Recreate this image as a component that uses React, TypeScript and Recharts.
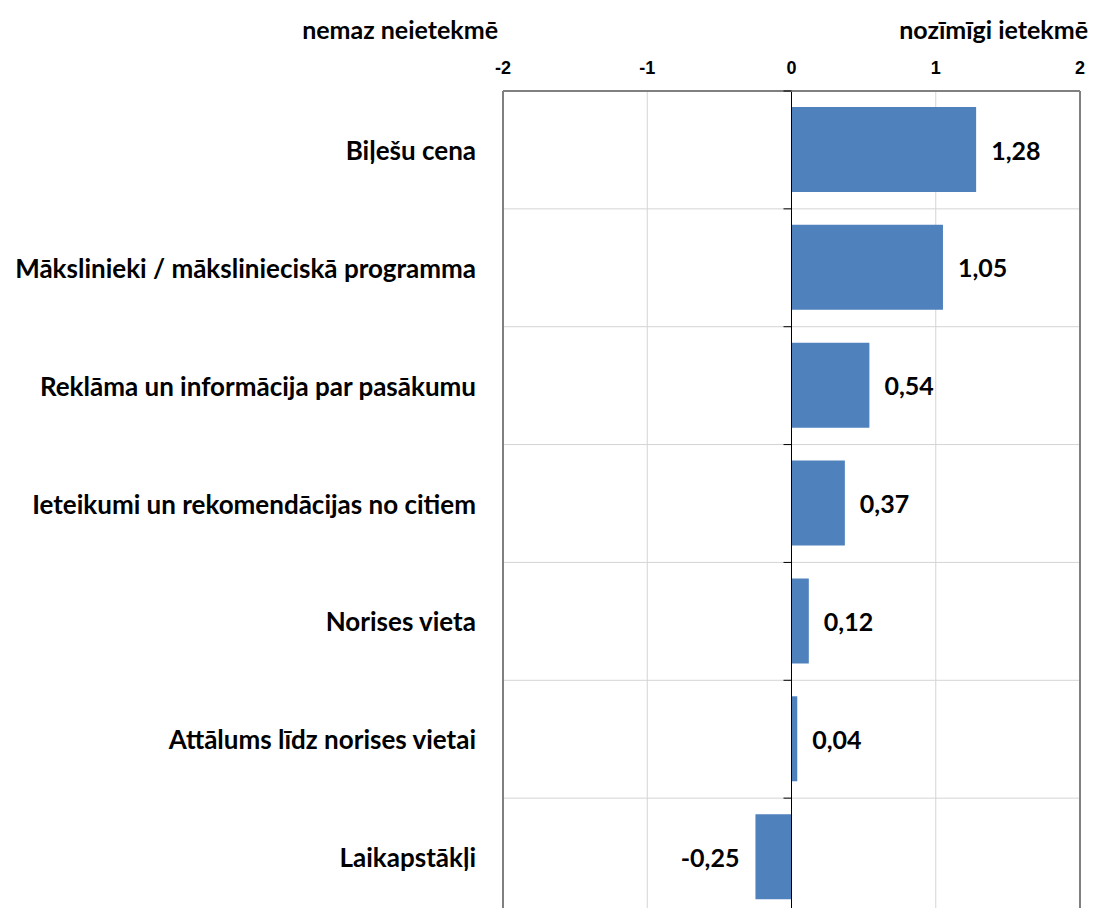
import { BarChart, Bar, XAxis, YAxis, CartesianGrid, ReferenceLine, LabelList } from "recharts";

// chart data
const factors = [
  "Biļešu cena",
  "Mākslinieki / mākslinieciskā programma",
  "Reklāma un informācija par pasākumu",
  "Ieteikumi un rekomendācijas no citiem",
  "Norises vieta",
  "Attālums līdz norises vietai",
  "Laikapstākļi",
];
const scores = [1.28, 1.05, 0.54, 0.37, 0.12, 0.04, -0.25];
const xTicks = [-2, -1, 0, 1, 2];
const leftTitle = "nemaz neietekmē";
const rightTitle = "nozīmīgi ietekmē";

const data = factors.map((name, i) => ({ name, score: scores[i] }));

const W = 1080;
const H = 908;
const M = { top: 0, right: 8, bottom: 0, left: 0 };
const Y_W = 495;
const X_H = 83;
const plotLeft = M.left + Y_W;
const plotW = W - plotLeft - M.right;
const plotH = H - M.top - X_H - M.bottom;
const band = plotH / factors.length;
const zeroX = plotLeft + plotW / 2;

const font = "Lato, 'Open Sans', sans-serif";

function CategoryTick(props: any) {
  const { y, payload } = props;
  const top = y - band / 2;
  return (
    <g>
      <text x={plotLeft - 27} y={y} textAnchor="end" dominantBaseline="central"
        fontFamily={font} fontWeight="bold" fontSize={26} fill="#000">
        {payload.value}
      </text>
      <line x1={zeroX - 8} x2={zeroX} y1={top} y2={top} stroke="#000" strokeWidth={1} />
    </g>
  );
}

function NumTick(props: any) {
  const { x, payload } = props;
  return (
    <text x={x} y={66} textAnchor="middle" style={{ fontFamily: "'Liberation Sans', Arial, sans-serif", fontWeight: 700, fontSize: "18px" }} fill="#000">
      {payload.value}
    </text>
  );
}

function ValueLabel(props: any) {
  const { x, y, width, height, value } = props;
  const neg = value < 0;
  const tx = neg ? Math.min(x, x + width) - 16 : x + width + 15;
  return (
    <text x={tx} y={y + height / 2} textAnchor={neg ? "end" : "start"} dominantBaseline="central"
      fontFamily={font} fontWeight="bold" fontSize={25} fill="#000">
      {value.toFixed(2).replace(".", ",")}
    </text>
  );
}

const titleStyle = {
  position: "absolute" as const,
  top: 6,
  fontFamily: font,
  fontWeight: "bold" as const,
  fontSize: 25,
  whiteSpace: "nowrap" as const,
};

export default function App() {
  return (
    <div style={{ position: "relative", width: W, height: 900 }}>
      <div style={{ ...titleStyle, right: 590 }}>{leftTitle}</div>
      <div style={{ ...titleStyle, right: 0 }}>{rightTitle}</div>
      <div style={{ position: "absolute", top: 0, left: 0 }}>
        <BarChart width={W} height={H} data={data} layout="vertical" margin={M} barSize={85}>
          <CartesianGrid
            stroke="#d4d4d4"
            horizontalCoordinatesGenerator={({ offset }: any) =>
              factors.map((_, i) => offset.top + (offset.height * i) / factors.length)
            }
          />
          <XAxis
            type="number"
            orientation="top"
            domain={[-2, 2]}
            ticks={xTicks}
            height={X_H}
            tickLine={false}
            tickSize={0}
            axisLine={{ stroke: "#808080", strokeWidth: 2 }}
            tick={<NumTick />}
          />
          <YAxis
            type="category"
            dataKey="name"
            width={Y_W}
            axisLine={false}
            tickLine={false}
            interval={0}
            tick={<CategoryTick />}
          />
          <ReferenceLine x={-2} stroke="#808080" strokeWidth={2} />
          <ReferenceLine x={2} stroke="#808080" strokeWidth={2} />
          <Bar dataKey="score" fill="#4F81BD" isAnimationActive={false}>
            <LabelList dataKey="score" content={<ValueLabel />} />
          </Bar>
          <ReferenceLine x={0} stroke="#000" strokeWidth={1} />
        </BarChart>
      </div>
    </div>
  );
}
